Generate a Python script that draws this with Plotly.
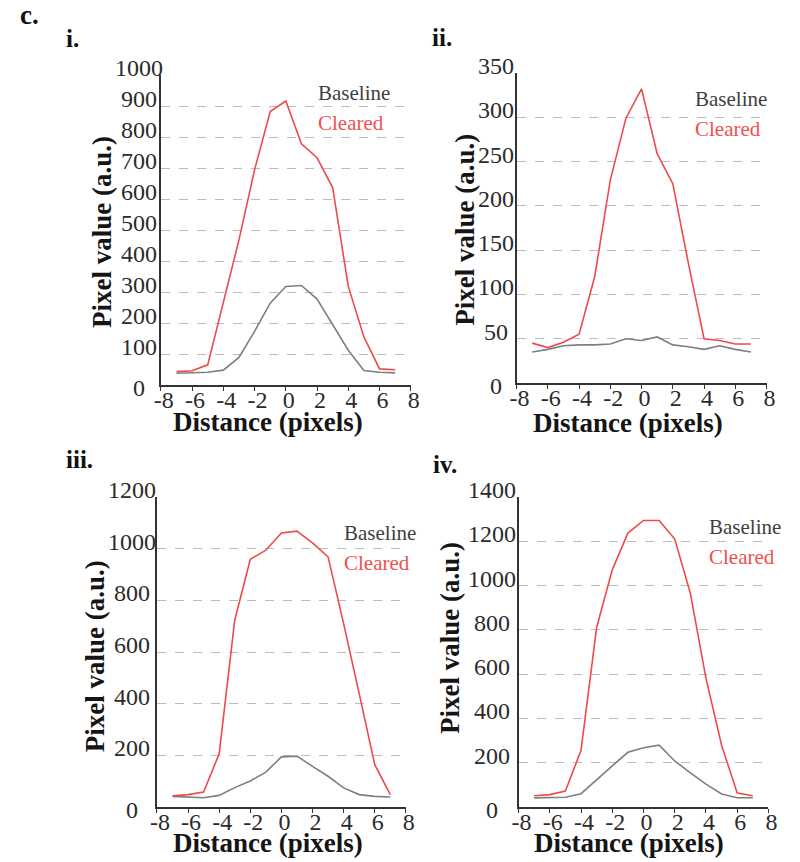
import plotly.graph_objects as go

# Line-profile distance from the centre of the feature (pixels)
distance = [-7, -6, -5, -4, -3, -2, -1, 0, 1, 2, 3, 4, 5, 6, 7]

# Panel i
baseline_i = [38, 39, 41, 48, 89, 173, 264, 318, 321, 277, 194, 112, 47, 41, 39]
cleared_i = [43, 46, 65, 264, 468, 694, 882, 916, 778, 733, 637, 318, 155, 52, 49]

# Panel ii
baseline_ii = [35, 38, 42, 43, 43, 44, 50, 48, 52, 43, 41, 38, 42, 38, 35]
cleared_ii = [45, 40, 46, 55, 120, 229, 299, 332, 259, 225, 135, 50, 48, 44, 44]

# Panel iii
baseline_iii = [41, 39, 36, 45, 75, 101, 135, 194, 197, 157, 119, 74, 48, 41, 39]
cleared_iii = [43, 48, 58, 206, 723, 959, 994, 1061, 1068, 1022, 968, 710, 439, 164, 48]

# Panel iv
baseline_iv = [41, 42, 44, 60, 124, 186, 247, 268, 279, 208, 154, 103, 59, 42, 42]
cleared_iv = [51, 56, 72, 256, 811, 1071, 1237, 1294, 1294, 1210, 965, 581, 279, 63, 51]

x_ticks = [-8, -6, -4, -2, 0, 2, 4, 6, 8]
x_ticktext = ["-8", "-6", "-4", "-2", "0", "2", "4", "6", "8"]

y_ticks_i = [0, 100, 200, 300, 400, 500, 600, 700, 800, 900, 1000]
y_ticks_ii = [0, 50, 100, 150, 200, 250, 300, 350]
y_ticks_iii = [0, 200, 400, 600, 800, 1000, 1200]
y_ticks_iv = [0, 200, 400, 600, 800, 1000, 1200, 1400]

panel_labels = ["i.", "ii.", "iii.", "iv."]
series_names = ["Baseline", "Cleared"]

W, H = 800, 862
SERIF = "Liberation Serif"
RED = "#ef4a4a"
GREY = "#7f7f7f"
AXIS = "#333333"
TICK_TXT = "#2b2b2b"


def px(x):
    return x / W


def py(y):
    return 1 - y / H


panels = [
    # plot box (left, right, top, bottom px), label pos, legend pos,
    # y tick label column centre, axis-title centres
    dict(base=baseline_i, clr=cleared_i, yt=y_ticks_i,
         box=(157, 412, 75, 385), lab=(58, 39), leg=(315, 93),
         ylab_x=135, xtitle=(266, 422), ytitle=(97, 232)),
    dict(base=baseline_ii, clr=cleared_ii, yt=y_ticks_ii,
         box=(520, 775, 73, 383), lab=(432, 37), leg=(700, 99),
         ylab_x=499, xtitle=(634, 423), ytitle=(467, 230)),
    dict(base=baseline_iii, clr=cleared_iii, yt=y_ticks_iii,
         box=(153, 407, 497, 807), lab=(58, 460), leg=(342, 533),
         ylab_x=128, xtitle=(266, 843), ytitle=(90, 656)),
    dict(base=baseline_iv, clr=cleared_iv, yt=y_ticks_iv,
         box=(522, 777, 497, 807), lab=(433, 465), leg=(714, 527),
         ylab_x=495, xtitle=(635, 843), ytitle=(452, 638)),
]

fig = go.Figure()
annotations = []
layout_axes = {}

for k, p in enumerate(panels, start=1):
    xa = "x" if k == 1 else f"x{k}"
    ya = "y" if k == 1 else f"y{k}"
    xkey = "xaxis" if k == 1 else f"xaxis{k}"
    ykey = "yaxis" if k == 1 else f"yaxis{k}"
    left, right, top, bottom = p["box"]

    fig.add_trace(go.Scatter(x=distance, y=p["base"], mode="lines",
                             line=dict(color=GREY, width=1.6),
                             name=series_names[0], showlegend=False,
                             xaxis=xa, yaxis=ya))
    fig.add_trace(go.Scatter(x=distance, y=p["clr"], mode="lines",
                             line=dict(color=RED, width=1.6),
                             name=series_names[1], showlegend=False,
                             xaxis=xa, yaxis=ya))

    layout_axes[xkey] = dict(
        domain=[px(left), px(right)], anchor=ya, range=[-8, 8],
        tickvals=x_ticks, ticktext=x_ticktext, ticks="outside", ticklen=4,
        tickwidth=1.2, tickcolor=AXIS, showline=True, linecolor=AXIS,
        linewidth=1.5, showgrid=False, zeroline=False,
        tickfont=dict(family=SERIF, size=24, color=TICK_TXT),
        ticklabelshift=3, ticklabelstandoff=-12, fixedrange=True,
    )
    layout_axes[ykey] = dict(
        domain=[py(bottom), py(top)], anchor=xa, range=[0, p["yt"][-1]],
        tickvals=p["yt"], showticklabels=False, ticks="",
        showline=True, linecolor=AXIS, linewidth=1.5,
        showgrid=True, gridcolor="#bcbcbc", gridwidth=1, griddash="dash",
        zeroline=False, fixedrange=True,
    )

    # y tick labels, centred in a column left of the axis
    for v in p["yt"]:
        annotations.append(dict(
            x=px(p["ylab_x"]), xref="paper", y=v, yref=ya,
            text=str(v), showarrow=False, xanchor="center", yanchor="middle",
            yshift=-3 if v == 0 else 7,
            font=dict(family=SERIF, size=24, color=TICK_TXT),
        ))

    # axis titles
    annotations.append(dict(
        x=px(p["xtitle"][0]), y=py(p["xtitle"][1]), xref="paper", yref="paper",
        text="<b>Distance (pixels)</b>", showarrow=False,
        xanchor="center", yanchor="middle",
        font=dict(family=SERIF, size=27, color="#151515"),
    ))
    annotations.append(dict(
        x=px(p["ytitle"][0]), y=py(p["ytitle"][1]), xref="paper", yref="paper",
        text="<b>Pixel value (a.u.)</b>", showarrow=False, textangle=-90,
        xanchor="center", yanchor="middle",
        font=dict(family=SERIF, size=27, color="#151515"),
    ))

    # panel label
    annotations.append(dict(
        x=px(p["lab"][0]), y=py(p["lab"][1]), xref="paper", yref="paper",
        text=f"<b>{panel_labels[k - 1]}</b>", showarrow=False,
        xanchor="left", yanchor="middle",
        font=dict(family=SERIF, size=25, color="#111111"),
    ))

    # in-plot legend text
    annotations.append(dict(
        x=px(p["leg"][0]), y=py(p["leg"][1]), xref="paper", yref="paper",
        text=series_names[0], showarrow=False, xanchor="left", yanchor="middle",
        font=dict(family=SERIF, size=21, color="#3f3f3f"),
    ))
    annotations.append(dict(
        x=px(p["leg"][0]), y=py(p["leg"][1] + 30), xref="paper", yref="paper",
        text=series_names[1], showarrow=False, xanchor="left", yanchor="middle",
        font=dict(family=SERIF, size=21, color="#f05050"),
    ))

# figure part label
annotations.append(dict(
    x=px(11), y=py(15), xref="paper", yref="paper", text="<b>c.</b>",
    showarrow=False, xanchor="left", yanchor="middle",
    font=dict(family=SERIF, size=27, color="#111111"),
))

fig.update_layout(
    width=W, height=H, margin=dict(l=0, r=0, t=0, b=0),
    paper_bgcolor="white", plot_bgcolor="white",
    showlegend=False, annotations=annotations, **layout_axes,
)

fig.write_html("out.html", config={"displayModeBar": False})
